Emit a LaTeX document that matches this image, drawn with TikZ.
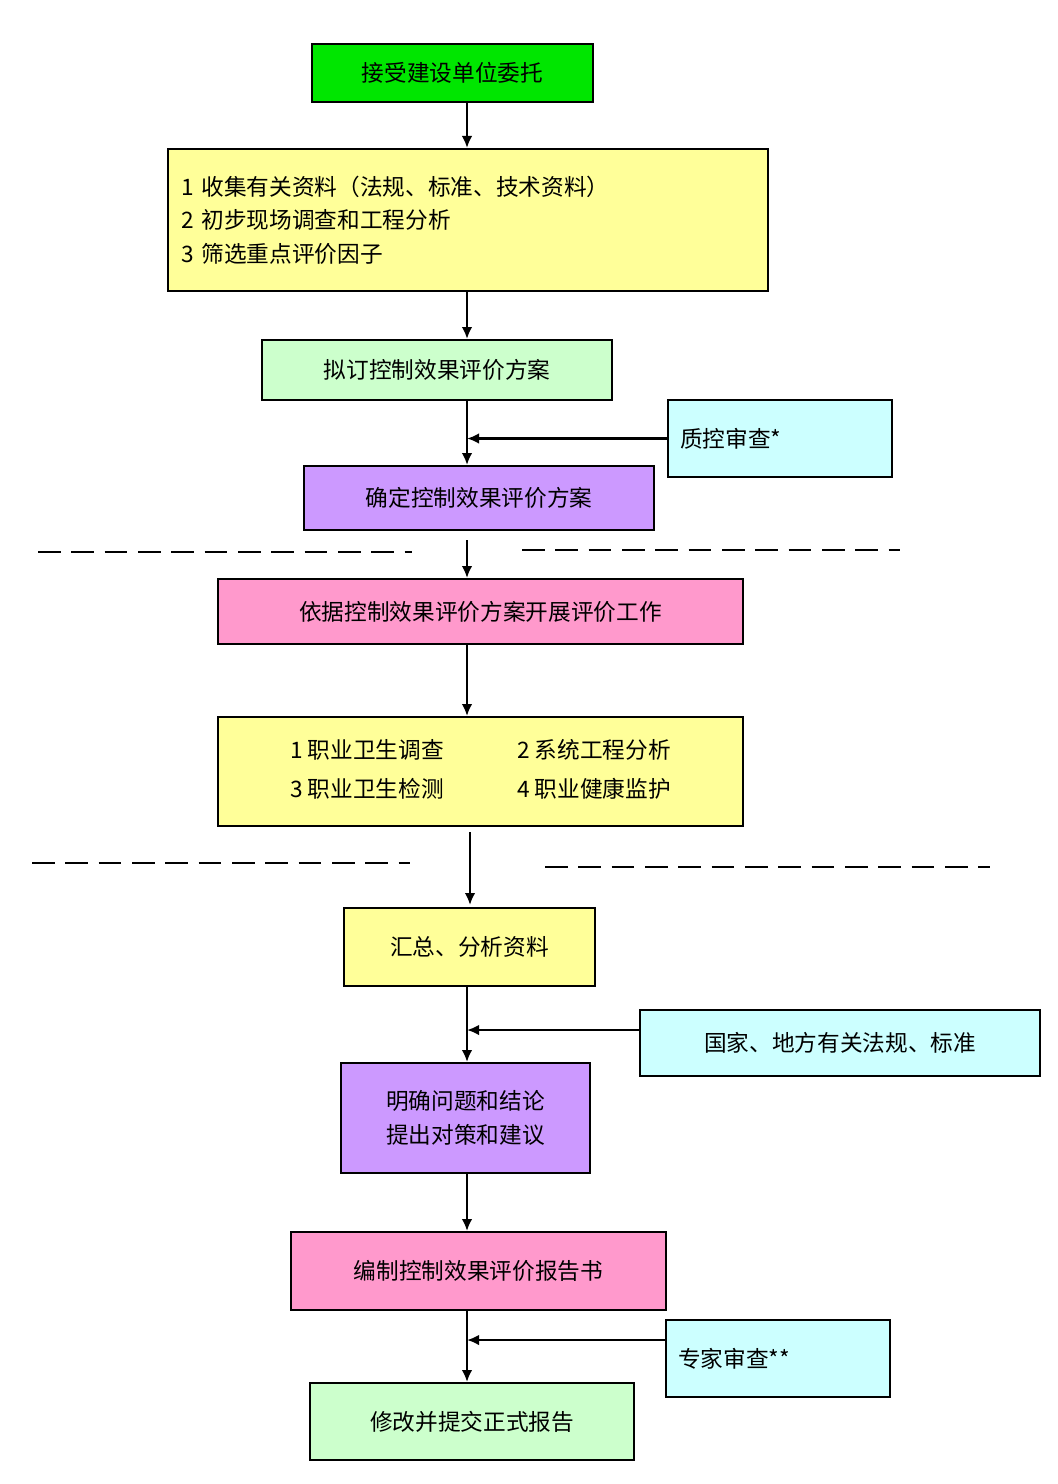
\documentclass[tikz,border=0pt]{standalone}
\usepackage{fontspec}
\setmainfont{Noto Sans CJK SC}
\usetikzlibrary{arrows.meta}
\begin{document}
\begin{tikzpicture}[x=0.75pt,y=-0.75pt,
 box/.style={draw=black,line width=1.5pt,font=\fontsize{17}{25}\selectfont,inner sep=0pt},
 arr/.style={line width=2pt,-{Latex[length=9pt,width=8pt]}},
 mydash/.style={line width=1.2pt,dash pattern=on 17pt off 8pt}]
\useasboundingbox (0,0) rectangle (1057,1484);
\definecolor{gr}{RGB}{0,230,0}
\definecolor{yl}{RGB}{255,255,153}
\definecolor{lg}{RGB}{204,255,204}
\definecolor{cy}{RGB}{204,255,255}
\definecolor{pu}{RGB}{204,153,255}
\definecolor{pk}{RGB}{255,153,204}
\coordinate (main) at (467,0);
\node[box,fill=gr,minimum width=210.75pt,minimum height=43.5pt] (n1) at (452.5,73) {接受建设单位委托};
\node[box,fill=yl,minimum width=450pt,minimum height=106.5pt,text width=430pt,align=left] (n2) at (468,220) {1 收集有关资料（法规、标准、技术资料）\\2 初步现场调查和工程分析\\3 筛选重点评价因子};
\node[box,fill=lg,minimum width=262.5pt,minimum height=45pt] (n3) at (437,370) {拟订控制效果评价方案};
\node[box,fill=cy,minimum width=168pt,minimum height=57.75pt,text width=150pt,align=left] (n4) at (780,438.5) {质控审查*};
\node[box,fill=pu,minimum width=262.5pt,minimum height=48pt] (n5) at (479,498) {确定控制效果评价方案};
\node[box,fill=pk,minimum width=393.75pt,minimum height=48.75pt] (n6) at (480.5,611.5) {依据控制效果评价方案开展评价工作};
\node[box,fill=yl,minimum width=393.75pt,minimum height=81.75pt] (n7) at (480.5,771.5) {\begin{tabular}{@{}l@{\hspace{55pt}}l@{}}1 职业卫生调查 & 2 系统工程分析\\[4pt] 3 职业卫生检测 & 4 职业健康监护\end{tabular}};
\node[box,fill=yl,minimum width=188.25pt,minimum height=58.5pt] (n8) at (469.5,947) {汇总、分析资料};
\node[box,fill=cy,minimum width=300pt,minimum height=49.5pt] (n9) at (840,1043) {国家、地方有关法规、标准};
\node[box,fill=pu,minimum width=186.75pt,minimum height=82.5pt,align=center] (n10) at (465.5,1118) {明确问题和结论\\提出对策和建议};
\node[box,fill=pk,minimum width=281.25pt,minimum height=58.5pt] (n11) at (478.5,1271) {编制控制效果评价报告书};
\node[box,fill=cy,minimum width=168pt,minimum height=57.75pt,text width=150pt,align=left] (n12) at (778,1358.5) {专家审查**};
\node[box,fill=lg,minimum width=243pt,minimum height=57.75pt] (n13) at (472,1421.5) {修改并提交正式报告};
\coordinate (c5) at (467,540);
\coordinate (c7) at (470,832);
\coordinate (c8) at (470,905);
\coordinate (c9) at (640,1030);
\coordinate (c12) at (666,1340);
\draw[arr] (n1.south -| main) -- (n2.north -| main);
\draw[arr] (n2.south -| main) -- (n3.north -| main);
\draw[arr] (n3.south -| main) -- (n5.north -| main);
\draw[arr] (n4.west) -- (n4.west -| main);
\draw[arr] (c5) -- (n6.north -| main);
\draw[arr] (n6.south -| main) -- (n7.north -| main);
\draw[arr] (c7) -- (c8);
\draw[arr] (n8.south -| main) -- (n10.north -| main);
\draw[arr] (c9) -- (c9 -| main);
\draw[arr] (n10.south -| main) -- (n11.north -| main);
\draw[arr] (c12) -- (c12 -| main);
\draw[arr] (n11.south -| main) -- (n13.north -| main);
\draw[mydash] (38,552) -- (412,552);
\draw[mydash] (522,550) -- (900,550);
\draw[mydash] (32,863) -- (410,863);
\draw[mydash] (545,867) -- (990,867);
\end{tikzpicture}
\end{document}
